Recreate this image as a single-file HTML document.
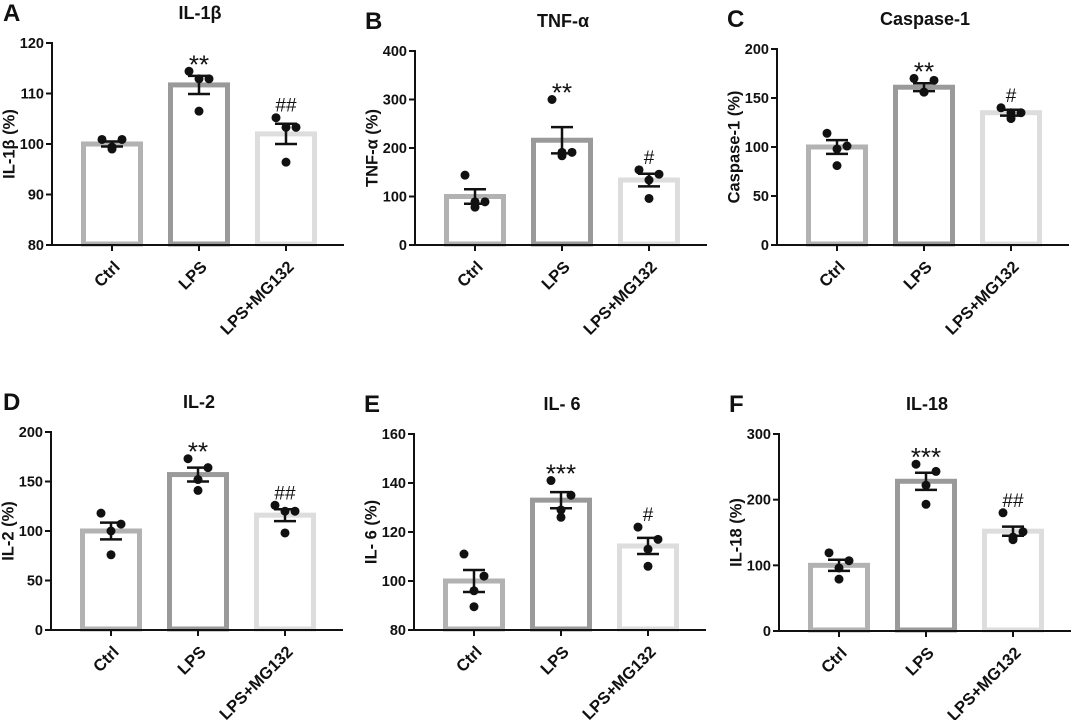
<!DOCTYPE html>
<html><head><meta charset="utf-8">
<style>
html,body{margin:0;padding:0;background:#fff;}
svg{display:block;font-family:"Liberation Sans",Arial,sans-serif;}
</style></head>
<body>
<svg id="fig" width="1072" height="720" viewBox="0 0 1072 720"></svg>
<script>
const categories = ['Ctrl','LPS','LPS+MG132'];
const barColors = ['#b2b2b2','#9a9a9a','#dddddd'];

const meanA = [100, 111.7, 102];
const semA = [0.5, 1.8, 2.0];
const ptsA = [[100.9,100.9,99.4,99.0],[114.4,112.9,112.9,106.5],[105.2,103.3,103.3,96.4]];
const ticksA = [80,90,100,110,120];

const meanB = [100, 216, 134];
const semB = [15, 27, 13];
const ptsB = [[144,89,89,78],[300,191,191,184],[155,146,134,96]];
const ticksB = [0,100,200,300,400];

const meanC = [100, 161, 135];
const semC = [7, 4, 3];
const ptsC = [[114,101,98,81],[170,168,156,156],[140,135,135,129]];
const ticksC = [0,50,100,150,200];

const meanD = [100, 157, 116];
const semD = [8.5, 7, 6];
const ptsD = [[118,107,100,76],[173,164,152,141],[126,120,120,98]];
const ticksD = [0,50,100,150,200];

const meanE = [100, 133, 114.3];
const semE = [4.5, 3.3, 3.3];
const ptsE = [[111,102,96,89.5],[141,135,129,126],[122,117,113,106]];
const ticksE = [80,100,120,140,160];

const meanF = [100, 228, 152];
const semF = [8.5, 13, 7];
const ptsF = [[119,107,96,79],[254,243,222,193],[180,151,143,139]];
const ticksF = [0,100,200,300];

const sigA = ['', '**', '##'];
const sigB = ['', '**', '#'];
const sigC = ['', '**', '#'];
const sigD = ['', '**', '##'];
const sigE = ['', '***', '#'];
const sigF = ['', '***', '##'];

const NS = 'http://www.w3.org/2000/svg';
const svg = document.getElementById('fig');
function mk(tag, attrs, parent, text){
  const e = document.createElementNS(NS, tag);
  for (const k in attrs) e.setAttribute(k, attrs[k]);
  if (text !== undefined) e.textContent = text;
  parent.appendChild(e);
  return e;
}

function panel(id, letter, title, ytitle, ax, yTop, yBot, mean, sem, pts, ticks, sig){
  const g = mk('g', {}, svg);
  
  
  const y0 = ticks[0], y1 = ticks[ticks.length-1];
  const yS = v => yBot - (v - y0) / (y1 - y0) * (yBot - yTop);
  const offs = [60, 147, 234];
  const xS = i => ax + offs[i];
  const xEnd = ax + 292;

  const lt = mk('text', {x: Math.max(3, ax-50), y: yTop - 22, 'font-size': 24, 'font-weight': 'bold', fill: '#111'}, g, letter);
  
  
  const tt = mk('text', {x: ax + 148, y: yTop - 24, 'font-size': 18, 'font-weight': 'bold', 'text-anchor': 'middle', fill: '#111'}, g, title);
  
  
  const cy = (yTop + yBot) / 2;
  const tx = ax - 42;
  const yt = mk('text', {x: tx, y: cy, 'font-size': 16.5, 'font-weight': 'bold', 'text-anchor': 'middle', fill: '#111', transform: `rotate(-90 ${tx} ${cy})`, 'dominant-baseline': 'middle'}, g, ytitle);
  
  

  for (let i = 0; i < 3; i++){
    const top = yS(mean[i]);
    const r = mk('rect', {x: xS(i) - 28.5, y: top, width: 57, height: yBot - top - 1, fill: '#fff', stroke: barColors[i], 'stroke-width': 5}, g);
    
    
  }
  const yl = mk('line', {x1: ax, y1: yTop - 1, x2: ax, y2: yBot, stroke: '#111', 'stroke-width': 2}, g);
  
  
  const xl = mk('line', {x1: ax - 1, y1: yBot, x2: xEnd, y2: yBot, stroke: '#111', 'stroke-width': 2}, g);
  
  
  ticks.forEach(t => {
    const y = yS(t);
    mk('line', {x1: ax - 6, y1: y, x2: ax, y2: y, stroke: '#111', 'stroke-width': 2}, g);
    const tl = mk('text', {x: ax - 8, y: y + 5, 'font-size': 14.5, 'font-weight': 'bold', 'text-anchor': 'end', fill: '#111'}, g, String(t));
    
    
  });
  const jit = [-10, 10, 0, 0];
  for (let i = 0; i < 3; i++){
    const x = xS(i);
    mk('line', {x1: x, y1: yBot, x2: x, y2: yBot + 6, stroke: '#111', 'stroke-width': 2}, g);
    const lx = x + 1, ly = yBot + 15;
    const xlab = mk('text', {x: lx, y: ly, 'font-size': 16.5, 'font-weight': 'bold', 'text-anchor': 'end', fill: '#111', transform: `rotate(-45 ${lx} ${ly})`, 'dominant-baseline': 'hanging'}, g, categories[i]);
    
    
    let topPix = yS(mean[i] + sem[i]);
    pts[i].forEach((v, k) => {
      const py = yS(v);
      topPix = Math.min(topPix, py - 4);
      const c = mk('circle', {cx: x + jit[k], cy: py, r: 4.5, fill: '#111'}, g);
      
      
    });
    const eh = yS(mean[i] + sem[i]), el = yS(mean[i] - sem[i]);
    const eg = mk('g', {stroke: '#111', 'stroke-width': 2.5}, g);
    
    
    mk('line', {x1: x, y1: eh, x2: x, y2: el}, eg);
    mk('line', {x1: x - 11, y1: eh, x2: x + 11, y2: eh}, eg);
    mk('line', {x1: x - 11, y1: el, x2: x + 11, y2: el}, eg);
    if (sig[i]){
      const center = topPix - 9;
      const isStar = sig[i][0] === '*';
      const s = mk('text', {x: x, y: isStar ? center + 15 : center + 7, 'font-size': isStar ? 26 : 19, 'text-anchor': 'middle', fill: '#111'}, g, sig[i]);
      
      
    }
  }
}

panel('A','A','IL-1β','IL-1β (%)', 52, 43, 245, meanA, semA, ptsA, ticksA, sigA);
panel('B','B','TNF-α','TNF-α (%)', 415, 51, 245, meanB, semB, ptsB, ticksB, sigB);
panel('C','C','Caspase-1','Caspase-1 (%)', 777, 49, 245, meanC, semC, ptsC, ticksC, sigC);
panel('D','D','IL-2','IL-2 (%)', 51, 432, 630, meanD, semD, ptsD, ticksD, sigD);
panel('E','E','IL- 6','IL- 6 (%)', 414, 434, 630, meanE, semE, ptsE, ticksE, sigE);
panel('F','F','IL-18','IL-18 (%)', 779, 434, 631, meanF, semF, ptsF, ticksF, sigF);
</script>
</body></html>
